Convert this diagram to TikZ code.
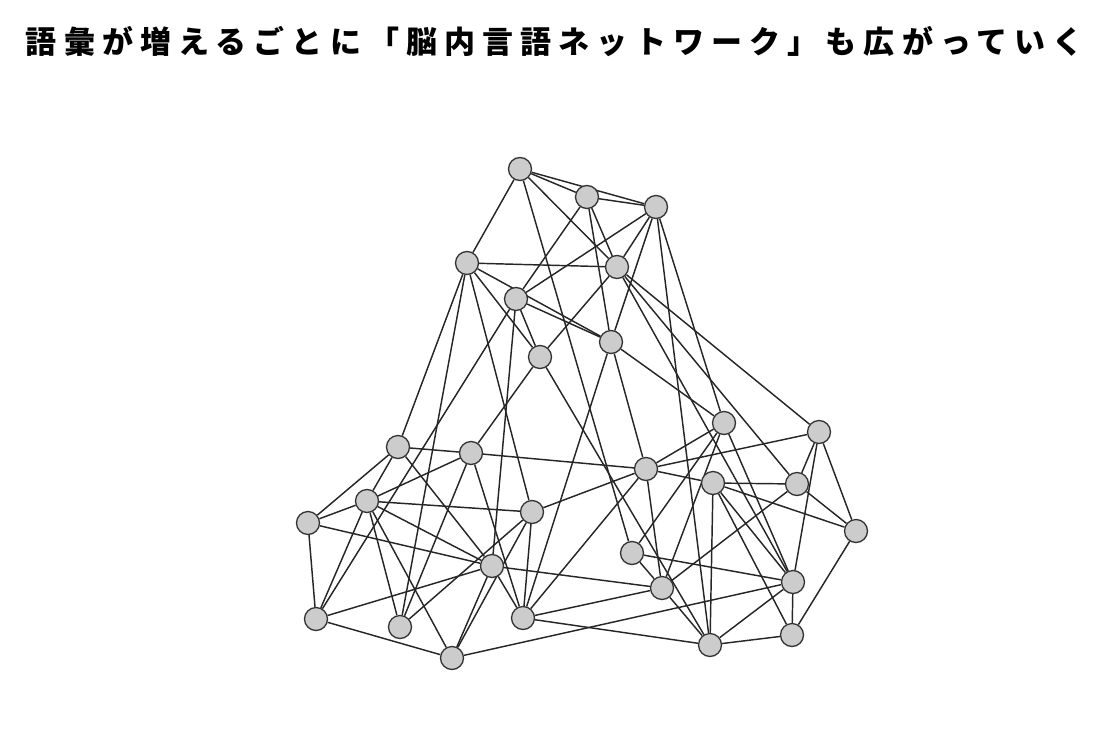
\documentclass[tikz,border=0pt]{standalone}
\usepackage{fontspec}
\newfontfamily\titlefont[LetterSpace=23]{Noto Sans CJK JP}
\usetikzlibrary{backgrounds}
\begin{document}
\begin{tikzpicture}[x=1pt,y=-1pt,
  vtx/.style={circle,draw=black!80,fill=black!20,line width=1.3pt,minimum size=23pt,inner sep=0pt},
  link/.style={draw=black!85,line width=1.45pt}]
\useasboundingbox (0,0) rectangle (1110,728);
\node (title) at (555,42) {\titlefont\bfseries\fontsize{31}{36}\selectfont 語彙が増えるごとに「脳内言語ネットワーク」も広がっていく};
\foreach \n/\x/\y in {A/520/169,B/587/197,C/656/207,D/467/263,E/617/267,F/516/299,G/540/357,H/611/342,
  I/724/423,J/819/432,K/398/447,L/471/453,M/646/469,N/713/483,O/797/484,P/367/501,Q/532/512,R/308/523,
  S/856/531,T/632/553,U/492/566,V/662/588,W/793/582,X/316/619,Y/400/627,Z/523/618,AA/710/645,AB/792/635,AC/452/658}
  \node[vtx] (\n) at (\x,\y) {};
\begin{pgfonlayer}{background}
\foreach \a/\b in {A/B,A/C,B/C,A/D,A/E,A/T,
  B/F,B/H,B/E,
  C/F,C/E,C/H,C/I,C/AA,
  D/E,D/H,D/K,D/Y,D/Q,D/G,
  E/G,E/J,E/O,E/W,
  F/H,F/G,F/X,F/U,
  G/L,G/AA,
  H/I,H/M,H/Z,
  I/M,I/T,I/V,I/W,
  J/M,J/O,J/W,J/S,
  K/L,K/P,K/R,K/U,
  L/P,L/M,L/Y,L/Z,
  M/Q,M/N,M/V,M/Z,
  N/O,N/S,N/AA,N/W,N/AB,
  O/S,O/V,
  P/Q,P/R,P/X,P/Y,P/AC,P/U,
  Q/Z,Q/Y,Q/AC,
  R/X,R/U,
  S/AB,
  T/V,T/W,
  U/X,U/AC,U/V,U/Z,
  V/Z,V/AA,
  W/AA,W/AB,W/AC,
  X/AC,
  Z/AA,
  AA/AB}
  \draw[link] (\a) -- (\b);
\end{pgfonlayer}
\end{tikzpicture}
\end{document}
